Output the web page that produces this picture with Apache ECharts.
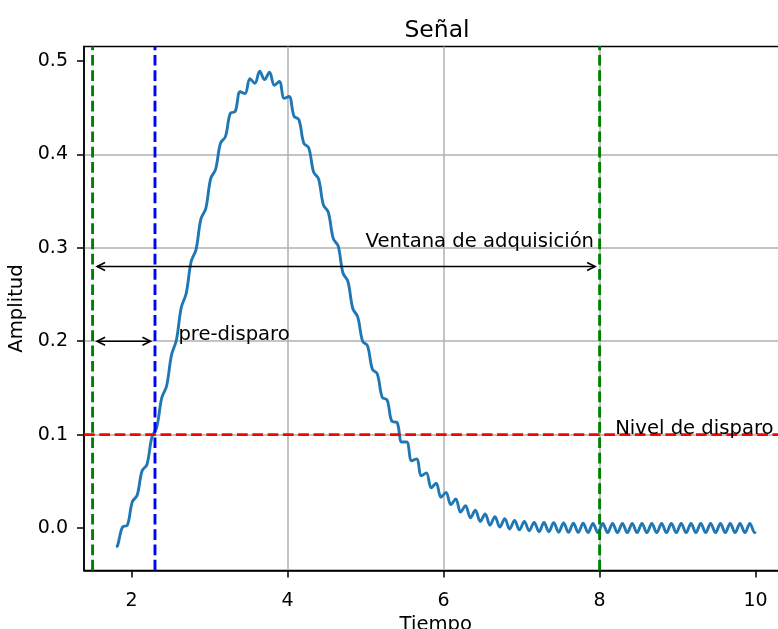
<!DOCTYPE html>
<html>
<head>
<meta charset="utf-8">
<script src="https://cdn.jsdelivr.net/npm/echarts@6/dist/echarts.min.js"></script>
<style>
html, body { margin: 0; padding: 0; background: #ffffff; }
#chart { width: 778px; height: 629px; }
</style>
</head>
<body>
<div id="chart"></div>
<script>
// ---- data ----
const timeValues = [
  1.8, 1.82, 1.883, 1.946, 2.009, 2.071, 2.134, 2.197, 2.26, 2.323,
  2.386, 2.449, 2.511, 2.574, 2.637, 2.7, 2.763, 2.826, 2.889, 2.951,
  3.014, 3.077, 3.14, 3.203, 3.266, 3.329, 3.391, 3.454, 3.517, 3.58,
  3.643, 3.705, 3.768, 3.831, 3.894, 3.957, 4.019, 4.082, 4.145, 4.208,
  4.271, 4.334, 4.396, 4.459, 4.522, 4.585, 4.648, 4.71, 4.773, 4.836,
  4.899, 4.962, 5.025, 5.087, 5.15, 5.213, 5.276, 5.339, 5.402, 5.464,
  5.527, 5.59, 5.653, 5.716, 5.779, 5.841, 5.904, 5.967, 6.03, 6.093,
  6.156, 6.218, 6.281, 6.344, 6.407, 6.47, 6.533, 6.595, 6.658, 6.721,
  6.784, 6.847, 6.91, 6.972, 7.035, 7.098, 7.161, 7.224, 7.287, 7.349,
  7.412, 7.475, 7.538, 7.601, 7.664, 7.726, 7.789, 7.852, 7.915, 7.978,
  8.041, 8.103, 8.166, 8.229, 8.292, 8.355, 8.418, 8.48, 8.543, 8.606,
  8.669, 8.732, 8.795, 8.857, 8.92, 8.983, 9.046, 9.109, 9.172, 9.234,
  9.297, 9.36, 9.423, 9.486, 9.549, 9.611, 9.674, 9.737, 9.8, 9.863,
  9.926, 9.988, 10.0
];
const amplitudeValues = [
  -0.020, -0.019, 0.001, 0.003, 0.028, 0.035, 0.061, 0.068, 0.097, 0.108,
  0.139, 0.152, 0.185, 0.201, 0.236, 0.251, 0.285, 0.298, 0.331, 0.342,
  0.374, 0.384, 0.412, 0.419, 0.444, 0.446, 0.467, 0.465, 0.481, 0.476,
  0.489, 0.480, 0.488, 0.474, 0.478, 0.460, 0.462, 0.441, 0.437, 0.412,
  0.407, 0.381, 0.374, 0.346, 0.338, 0.310, 0.302, 0.273, 0.264, 0.235,
  0.226, 0.200, 0.195, 0.170, 0.165, 0.140, 0.137, 0.114, 0.113, 0.092,
  0.092, 0.072, 0.074, 0.056, 0.059, 0.043, 0.048, 0.033, 0.038, 0.025,
  0.031, 0.017, 0.024, 0.011, 0.019, 0.007, 0.015, 0.003, 0.012, 0.001,
  0.010, -0.001, 0.008, -0.002, 0.007, -0.003, 0.006, -0.004, 0.006, -0.004,
  0.0056, -0.0045, 0.0055, -0.0047, 0.0052, -0.0048, 0.0051, -0.0049, 0.005, -0.005,
  0.005, -0.005, 0.005, -0.005, 0.005, -0.005, 0.005, -0.005, 0.005, -0.005,
  0.005, -0.005, 0.005, -0.005, 0.005, -0.005, 0.005, -0.005, 0.005, -0.005,
  0.005, -0.005, 0.005, -0.005, 0.005, -0.005, 0.005, -0.005, 0.005, -0.005,
  0.005, -0.005, -0.004
];
const xTickValues = [2, 4, 6, 8, 10];
const yTickValues = [0, 0.1, 0.2, 0.3, 0.4, 0.5];
const xRange = [1.39, 10.41];
const yRange = [-0.0455, 0.5155];

const windowStart = 1.5;
const triggerTime = 2.3;
const windowEnd = 8.0;
const triggerLevel = 0.1;

const arrowFrom = [1.5, 1.5];
const arrowTo = [8.0, 2.3];
const arrowLevel = [0.28, 0.2];

const noteTexts = ['Ventana de adquisición', 'pre-disparo', 'Nivel de disparo'];
const noteX = [5.0, 2.6, 8.2];
const noteY = [0.3, 0.2, 0.1];

// ---- chart ----
const FONT = '"DejaVu Sans", "Liberation Sans", sans-serif';
const chart = echarts.init(document.getElementById('chart'), null, { renderer: 'canvas' });

const signalData = timeValues.map((t, i) => [t, amplitudeValues[i]]);

function verticalLine(x, color) {
  return {
    type: 'line', data: [[x, yRange[0]], [x, yRange[1]]],
    symbol: 'none', showSymbol: false, silent: true, z: 3,
    lineStyle: { color: color, width: 2.9, type: [10.7, 4.6], cap: 'butt' }
  };
}

const option = {
  animation: false,
  backgroundColor: '#ffffff',
  textStyle: { fontFamily: FONT },
  title: {
    text: 'Señal', left: 432, top: 13.5, textAlign: 'center',
    textStyle: { fontFamily: FONT, fontSize: 23.5, fontWeight: 'normal', color: '#000' }
  },
  grid: {
    left: 84, top: 46.5, right: -9.6, bottom: 58.5,
    outerBoundsMode: 'none', containLabel: false,
    show: true, borderColor: '#000', borderWidth: 1.5, backgroundColor: 'transparent'
  },
  xAxis: {
    type: 'value', min: xRange[0], max: xRange[1],
    name: 'Tiempo', nameLocation: 'middle', nameGap: 36,
    nameTextStyle: { fontFamily: FONT, fontSize: 19.6, color: '#000' },
    axisLine: { show: true, onZero: false, lineStyle: { color: '#000', width: 1.5 } },
    axisTick: { show: true, length: 7, customValues: xTickValues, lineStyle: { color: '#000', width: 1.5 } },
    axisLabel: { customValues: xTickValues, margin: 21, fontFamily: FONT, fontSize: 19, color: '#000',
      formatter: v => String(v) },
    splitLine: { show: true, showMinLine: false, showMaxLine: false, lineStyle: { color: '#b0b0b0', width: 1.5 } }
  },
  yAxis: {
    type: 'value', min: yRange[0], max: yRange[1],
    name: 'Amplitud', nameLocation: 'middle', nameGap: 48.5, nameRotate: 90,
    nameTextStyle: { fontFamily: FONT, fontSize: 19.6, color: '#000' },
    axisLine: { show: true, onZero: false, lineStyle: { color: '#000', width: 1.5 } },
    axisTick: { show: true, length: 7, customValues: yTickValues, lineStyle: { color: '#000', width: 1.5 } },
    axisLabel: { customValues: yTickValues, margin: 16, fontFamily: FONT, fontSize: 19, color: '#000',
      formatter: v => v.toFixed(1) },
    splitLine: { show: true, showMinLine: false, showMaxLine: false, lineStyle: { color: '#b0b0b0', width: 1.5 } }
  },
  series: [
    {
      type: 'line', data: signalData, symbol: 'none', showSymbol: false, smooth: 0.36,
      z: 2, lineStyle: { color: '#1f77b4', width: 2.9 }
    },
    verticalLine(windowStart, '#008000'),
    verticalLine(triggerTime, '#0000ff'),
    verticalLine(windowEnd, '#008000'),
    {
      type: 'line', data: [[xRange[0], triggerLevel], [xRange[1], triggerLevel]],
      symbol: 'none', showSymbol: false, silent: true, z: 3,
      lineStyle: { color: '#ff0000', width: 2.9, type: [10.7, 4.6], cap: 'butt' }
    },
    {
      type: 'custom', coordinateSystem: 'cartesian2d', z: 4, silent: true,
      data: arrowFrom.map((x, i) => [x, arrowTo[i], arrowLevel[i]]),
      encode: { x: [0, 1], y: 2 },
      renderItem: function (params, api) {
        const a = api.coord([api.value(0), api.value(2)]);
        const b = api.coord([api.value(1), api.value(2)]);
        const s = 4.5, hl = 8, hw = 4;
        const x1 = a[0] + s, x2 = b[0] - s, y = a[1];
        const st = { stroke: '#000', fill: null, lineWidth: 1.6 };
        return {
          type: 'group', children: [
            { type: 'line', shape: { x1: x1, y1: y, x2: x2, y2: y }, style: st },
            { type: 'polyline', shape: { points: [[x1 + hl, y - hw], [x1, y], [x1 + hl, y + hw]] }, style: st },
            { type: 'polyline', shape: { points: [[x2 - hl, y - hw], [x2, y], [x2 - hl, y + hw]] }, style: st }
          ]
        };
      }
    },
    {
      type: 'custom', coordinateSystem: 'cartesian2d', z: 4, silent: true,
      data: noteX.map((x, i) => [x, noteY[i]]),
      renderItem: function (params, api) {
        const p = api.coord([api.value(0), api.value(1)]);
        return {
          type: 'text', x: p[0], y: p[1] - 6,
          style: {
            text: noteTexts[params.dataIndex], fill: '#000',
            font: '19.6px ' + FONT, align: 'left', verticalAlign: 'middle'
          }
        };
      }
    }
  ]
};
chart.setOption(option);
</script>
</body>
</html>
